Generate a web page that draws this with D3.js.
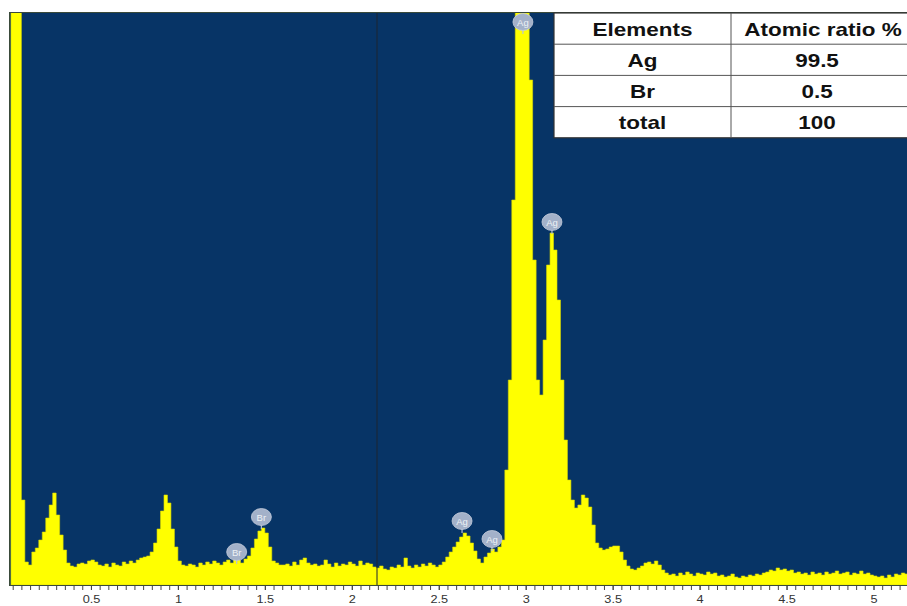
<!DOCTYPE html>
<html>
<head>
<meta charset="utf-8">
<script src="https://cdn.jsdelivr.net/npm/d3@7"></script>
<style>
  body { margin: 0; background: #fff; }
  svg { display: block; }
</style>
</head>
<body>
<div id="chart"></div>
<script>
// EDS spectrum, channel width 0.02 keV, first channel at 0.04 keV
var startEnergy = 0.04;
var channelWidth = 0.02;
var counts = [
  6000, 6000, 6000, 850, 230, 200, 330, 370, 450, 530,
  670, 800, 920, 700, 500, 350, 220, 190, 180, 210,
  220, 210, 240, 250, 230, 200, 190, 210, 180, 220,
  200, 190, 230, 210, 240, 220, 250, 270, 280, 290,
  330, 420, 560, 740, 900, 820, 560, 380, 240, 200,
  190, 210, 200, 180, 220, 200, 230, 210, 240, 220,
  200, 230, 250, 220, 260, 250, 220, 260, 290, 370,
  460, 540, 570, 520, 380, 240, 220, 200, 200, 210,
  190, 230, 200, 250, 270, 220, 200, 210, 190, 200,
  250, 210, 180, 220, 190, 210, 200, 230, 210, 190,
  240, 200, 220, 210, 180, 170, 190, 160, 150, 180,
  170, 200, 180, 270, 190, 170, 200, 180, 210, 190,
  220, 200, 180, 200, 230, 280, 330, 380, 430, 480,
  520, 490, 420, 340, 260, 220, 280, 320, 360, 330,
  380, 450, 1150, 2050, 3850, 6500, 7000, 6800, 6200, 5050,
  3250, 2050, 1900, 2450, 3200, 3520, 3350, 2850, 2050, 1450,
  1050, 850, 770, 800, 900, 870, 780, 600, 420, 370,
  350, 360, 380, 390, 390, 330, 250, 190, 160, 150,
  170, 190, 220, 230, 210, 240, 200, 150, 120, 100,
  110, 90, 120, 100, 130, 110, 90, 120, 110, 100,
  130, 110, 120, 90, 100, 80, 90, 110, 80, 70,
  90, 80, 100, 90, 110, 100, 120, 130, 150, 140,
  170, 150, 160, 140, 150, 120, 130, 110, 120, 100,
  130, 110, 120, 100, 130, 110, 120, 140, 110, 120,
  130, 100, 120, 110, 140, 110, 120, 100, 90, 80,
  90, 70, 100, 80, 110, 100, 120, 110
];

// element markers
var markerNames = ["Ag", "Ag", "Ag", "Ag", "Br", "Br"];
var markerEnergy = [2.984, 3.151, 2.634, 2.806, 1.480, 1.338];
var markerCounts = [5630, 3630, 640, 460, 680, 330];

var cursorEnergy = 2.145;

// table
var tableHeader = ["Elements", "Atomic ratio %"];
var tableElements = ["Ag", "Br", "total"];
var tableRatios = ["99.5", "0.5", "100"];

var tickValues = [0.5, 1, 1.5, 2, 2.5, 3, 3.5, 4, 4.5, 5];

var W = 907, H = 606;
var plot = { left: 10, top: 13, right: 907, bottom: 586 };

var svg = d3.select("#chart").append("svg")
  .attr("width", W)
  .attr("height", H);

var x = d3.scaleLinear().domain([0, 5.2]).range([4, 4 + 5.2 * 173.9]);
var y = d3.scaleLinear().domain([0, 5720]).range([585, 13]);

svg.append("clipPath").attr("id", "clip")
  .append("rect")
  .attr("x", plot.left).attr("y", plot.top)
  .attr("width", plot.right - plot.left)
  .attr("height", plot.bottom - plot.top);

svg.append("rect")
  .attr("x", plot.left).attr("y", plot.top)
  .attr("width", plot.right - plot.left)
  .attr("height", plot.bottom - plot.top)
  .attr("fill", "#073466");

// spectrum as a step area
var pts = counts.map((c, i) => [startEnergy + i * channelWidth, c]);
pts.push([startEnergy + counts.length * channelWidth, counts[counts.length - 1]]);

var area = d3.area()
  .curve(d3.curveStepAfter)
  .x(d => x(d[0]))
  .y0(y(0))
  .y1(d => y(d[1]));

var g = svg.append("g").attr("clip-path", "url(#clip)");

g.append("path")
  .datum(pts)
  .attr("d", area)
  .attr("fill", "#ffff00")
  .attr("stroke", "#d8d800")
  .attr("stroke-width", 0.6);

// cursor line
g.append("line")
  .attr("x1", x(cursorEnergy)).attr("x2", x(cursorEnergy))
  .attr("y1", plot.top).attr("y2", plot.bottom)
  .attr("stroke", "#1c2430")
  .attr("stroke-width", 1);

// element markers (bubbles)
var mk = g.selectAll("g.marker")
  .data(markerNames.map((n, i) => ({ name: n, e: markerEnergy[i], c: markerCounts[i] })))
  .join("g")
  .attr("class", "marker")
  .attr("transform", d => "translate(" + x(d.e) + "," + y(d.c) + ")");

mk.append("line")
  .attr("x1", 0).attr("x2", 0)
  .attr("y1", 6).attr("y2", 12)
  .attr("stroke", "#b8c2d4")
  .attr("stroke-width", 1.2);

mk.append("ellipse")
  .attr("rx", 10).attr("ry", 8.5)
  .attr("fill", "#a3b1c9")
  .attr("stroke", "#c4ccdb")
  .attr("stroke-width", 0.8);

mk.append("text")
  .attr("text-anchor", "middle")
  .attr("y", 3.5)
  .attr("font-family", "Liberation Sans, Arial, sans-serif")
  .attr("font-size", 9.5)
  .attr("fill", "#eef1f6")
  .text(d => d.name);

// border
svg.append("rect")
  .attr("x", plot.left - 0.5).attr("y", plot.top - 0.5)
  .attr("width", plot.right - plot.left + 2)
  .attr("height", plot.bottom - plot.top)
  .attr("fill", "none")
  .attr("stroke", "#3a4a3a")
  .attr("stroke-width", 1);

// x axis
var minor = d3.range(0.05, 5.2, 0.05);
svg.append("g")
  .attr("transform", "translate(0," + plot.bottom + ")")
  .call(d3.axisBottom(x).tickValues(minor).tickSize(4).tickFormat(""))
  .call(a => a.select(".domain").remove())
  .call(a => a.selectAll("line").attr("stroke", "#444"));

var ax = svg.append("g")
  .attr("transform", "translate(0," + plot.bottom + ")")
  .call(d3.axisBottom(x).tickValues(tickValues).tickSize(4).tickFormat(d3.format("")));
ax.select(".domain").remove();
ax.selectAll("line").attr("stroke", "#444");
ax.selectAll("text")
  .attr("font-family", "Liberation Sans, Arial, sans-serif")
  .attr("font-size", 10)
  .attr("fill", "#333")
  .attr("y", 10)
  .attr("transform", "scale(1.27,1)");

// table in the top right corner
var tb = { x: 554, y: 13, col: 731, right: 915, rowH: 31.2 };
var rows = [tableHeader].concat(tableElements.map((e, i) => [e, tableRatios[i]]));

var tg = svg.append("g");
tg.append("rect")
  .attr("x", tb.x).attr("y", tb.y)
  .attr("width", tb.right - tb.x)
  .attr("height", tb.rowH * rows.length)
  .attr("fill", "#fff")
  .attr("stroke", "#333")
  .attr("stroke-width", 1.2);

for (let i = 1; i < rows.length; i++) {
  tg.append("line")
    .attr("x1", tb.x).attr("x2", tb.right)
    .attr("y1", tb.y + i * tb.rowH).attr("y2", tb.y + i * tb.rowH)
    .attr("stroke", "#555").attr("stroke-width", 1);
}
tg.append("line")
  .attr("x1", tb.col).attr("x2", tb.col)
  .attr("y1", tb.y).attr("y2", tb.y + tb.rowH * rows.length)
  .attr("stroke", "#555").attr("stroke-width", 1);

var colCenters = [(tb.x + tb.col) / 2, 817];
rows.forEach((r, i) => {
  r.forEach((t, j) => {
    // header of the second column sits a bit further right
    let cx = (i == 0 && j == 1) ? 823 : colCenters[j];
    tg.append("text")
      .attr("transform", "translate(" + cx + "," + (tb.y + i * tb.rowH + 22.5) + ") scale(1.27,1)")
      .attr("text-anchor", "middle")
      .attr("font-family", "Liberation Sans, Arial, sans-serif")
      .attr("font-weight", "bold")
      .attr("font-size", 17.7)
      .attr("fill", "#111")
      .text(t);
  });
});
</script>
</body>
</html>
